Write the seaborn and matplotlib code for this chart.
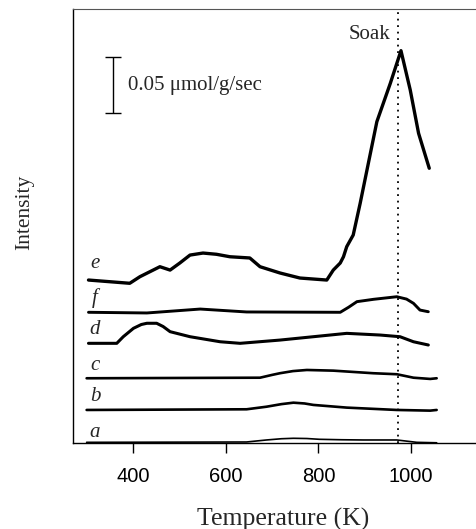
import numpy as np
import pandas as pd
import matplotlib
matplotlib.use("Agg")
import matplotlib.pyplot as plt
import seaborn as sns

# ---- data (intensity in umol/g/sec above each trace's baseline)
curve_names = ["a", "b", "c", "d", "f", "e"]
offsets = [0.0006, 0.0295, 0.0578, 0.0890, 0.1167, 0.1440]
label_heights = [0.0092, 0.0116, 0.0118, 0.0119, 0.0128, 0.0167]

temp_a = [300, 645, 688, 720, 746, 775, 802, 850, 897, 969, 1012, 1055]
sig_a = [0.0, 0.0003, 0.0021, 0.0032, 0.0036, 0.0034, 0.0027, 0.0023, 0.0021, 0.0021, 0.0, -0.0004]

temp_b = [300, 645, 688, 720, 746, 770, 789, 861, 969, 1041, 1055]
sig_b = [0.0, 0.0006, 0.0029, 0.0052, 0.0065, 0.0058, 0.0045, 0.0021, 0.0, -0.0006, 0.0]

temp_c = [300, 674, 700, 717, 745, 775, 832, 918, 969, 1005, 1041, 1055]
sig_c = [0.0, 0.0005, 0.0030, 0.0045, 0.0064, 0.0074, 0.0068, 0.0045, 0.0036, 0.0005, -0.0006, 0.0]

temp_d = [304, 365, 379, 401, 418, 430, 451, 465, 480, 523, 588, 631, 717, 789, 861, 933, 976, 1005, 1037]
sig_d = [0.0, 0.0, 0.0059, 0.0134, 0.0168, 0.0179, 0.0179, 0.0150, 0.0104, 0.0059, 0.0014, 0.0,
         0.0029, 0.0059, 0.0089, 0.0074, 0.0059, 0.0014, -0.0015]

temp_f = [304, 430, 545, 645, 847, 865, 883, 919, 969, 990, 1005, 1019, 1037]
sig_f = [0.0, -0.0006, 0.0029, 0.0003, 0.0, 0.0045, 0.0095, 0.0116, 0.0139, 0.0118, 0.0080, 0.0020, 0.0005]

temp_e = [304, 393, 415, 458, 480, 501, 523, 551, 580, 609, 652, 674, 717, 760, 818, 832,
          847, 854, 861, 875, 890, 926, 955, 978, 998, 1016, 1039]
sig_e = [0.0015, -0.0014, 0.0045, 0.0134, 0.0104, 0.0167, 0.0238, 0.0256, 0.0245, 0.0223, 0.0212,
         0.0134, 0.0078, 0.0033, 0.0015, 0.0104, 0.0167, 0.0223, 0.0313, 0.0417, 0.0700,
         0.1429, 0.1771, 0.2063, 0.1712, 0.1325, 0.1013]

x_ticks = [400, 600, 800, 1000]
soak_temp = 972
scale_value = 0.05

temps = [temp_a, temp_b, temp_c, temp_d, temp_f, temp_e]
sigs = [sig_a, sig_b, sig_c, sig_d, sig_f, sig_e]

rows = []
for name, off, t, s in zip(curve_names, offsets, temps, sigs):
    for ti, si in zip(t, s):
        rows.append({"curve": name, "T": ti, "I": si + off})
df = pd.DataFrame(rows)

sns.set_style("ticks")
plt.rcParams["font.family"] = ["Liberation Serif", "DejaVu Serif"]

fig = plt.figure(figsize=(4.77, 5.29), dpi=100)
ax = fig.add_axes([73 / 477, 1 - 443 / 529, 404 / 477, 434 / 529])

widths = {"a": 1.2, "b": 1.9, "c": 1.9, "d": 2.2, "f": 2.1, "e": 2.4}
for name in curve_names:
    sub = df[df["curve"] == name]
    sns.lineplot(data=sub, x="T", y="I", color="black", lw=widths[name],
                 sort=False, estimator=None, ax=ax, legend=False)

for name, off, lh in zip(curve_names, offsets, label_heights):
    ax.text(318, off + lh, name, ha="center", va="center", fontsize=15,
            style="italic", family=["Liberation Serif"])

ax.axvline(soak_temp, color="black", lw=1.3, ls=(0, (1, 2.6)))
ax.text(955, 0.3643, "Soak", ha="right", va="center", fontsize=15)

# scale bar
ax.errorbar([357], [0.3192], yerr=[scale_value / 2], color="black", lw=1,
            capsize=6, capthick=1)
ax.text(389, 0.3188, "0.05 \u03bcmol/g/sec", ha="left", va="center", fontsize=15)

ax.set_xlim(270.6, 1142)
ax.set_ylim(0, 0.3875)
ax.set_xticks(x_ticks)
ax.set_xticklabels([str(v) for v in x_ticks], family=["Liberation Sans"], fontsize=14.5)
ax.set_yticks([])
ax.tick_params(axis="x", length=7, width=1, pad=10, direction="out", colors="black")

for side in ["left", "bottom"]:
    ax.spines[side].set_color("black")
    ax.spines[side].set_linewidth(1.0)
ax.spines["top"].set_color("#555555")
ax.spines["top"].set_linewidth(0.8)
ax.spines["right"].set_visible(False)

ax.set_xlabel("Temperature (K)", fontsize=18.5, va="center")
ax.xaxis.set_label_coords((283 - 73) / 404, (443 - 519) / 434)
ax.set_ylabel("Intensity", fontsize=15.5, va="center")
ax.yaxis.set_label_coords((25 - 73) / 404, (443 - 212) / 434)

fig.savefig("out.png", dpi=100)
